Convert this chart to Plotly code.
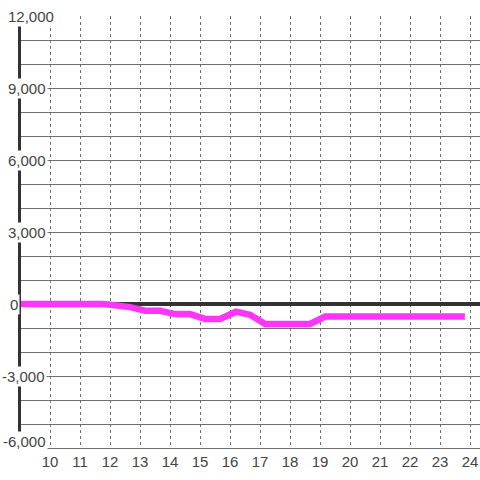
import plotly.graph_objects as go

# hour of day vs. value
hours = [9.0, 11.8, 12.67, 13.17, 13.67, 14.17, 14.67, 15.17, 15.67,
         16.2, 16.67, 17.17, 18.67, 19.17, 23.83]
values = [0, 0, -130, -280, -280, -420, -420, -620, -620,
          -320, -450, -830, -830, -520, -520]

x_ticks = list(range(10, 25))
y_tick_vals = [12000, 9000, 6000, 3000, 0, -3000, -6000]
y_tick_text = ["12,000", "9,000", "6,000", "3,000", "0", "-3,000", "-6,000"]

text_color = "#444444"
grid_color = "#6e6e6e"

fig = go.Figure()
fig.add_trace(
    go.Scatter(
        x=hours,
        y=values,
        mode="lines",
        line=dict(color="#ff36fa", width=6.5),
        hoverinfo="skip",
    )
)

# y tick labels sit on a white box over the axis line
x_shifts = [-15, -15, -15, -15, -13, -21, -20]
y_shifts = [0, 0, 0, 0, 0, 0, 7]
for val, txt, xs, ys in zip(y_tick_vals, y_tick_text, x_shifts, y_shifts):
    fig.add_annotation(
        x=0,
        xref="paper",
        y=val,
        yref="y",
        text=txt,
        showarrow=False,
        xanchor="left",
        yanchor="middle",
        xshift=xs,
        yshift=ys,
        bgcolor="white",
        borderpad=1,
        font=dict(size=15, color=text_color),
    )

fig.update_layout(
    width=480,
    height=480,
    margin=dict(l=21, r=0, t=16, b=32),
    paper_bgcolor="white",
    plot_bgcolor="white",
    showlegend=False,
    font=dict(family="Liberation Sans, Arial, sans-serif", size=15, color=text_color),
)
fig.update_xaxes(
    range=[10 - 29 / 30, 10 + 430 / 30],
    tickvals=x_ticks,
    ticktext=[str(t) for t in x_ticks],
    showgrid=True,
    gridcolor=grid_color,
    gridwidth=1,
    griddash="dot",
    zeroline=False,
    showline=True,
    linecolor=grid_color,
    linewidth=1,
    ticks="",
)
fig.update_yaxes(
    range=[-6000, 12000],
    tick0=0,
    dtick=1000,
    showticklabels=False,
    showgrid=True,
    gridcolor=grid_color,
    gridwidth=1,
    zeroline=True,
    zerolinecolor="#333333",
    zerolinewidth=3.5,
    showline=True,
    linecolor="#333333",
    linewidth=3,
    ticks="",
)

fig.write_html(
    "out.html",
    config={"displayModeBar": False},
    post_script="document.body.style.margin='0';",
)
